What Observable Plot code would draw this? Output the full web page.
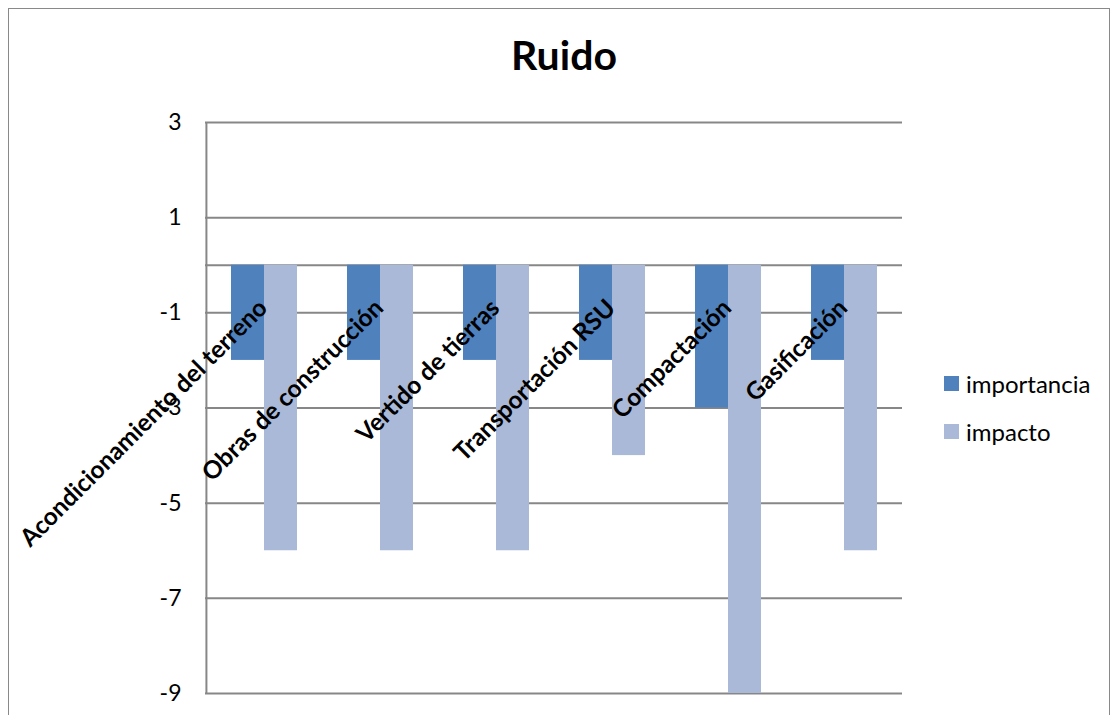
<!DOCTYPE html>
<html>
<head>
<meta charset="utf-8">
<script src="https://cdn.jsdelivr.net/npm/d3@7"></script>
<script src="https://cdn.jsdelivr.net/npm/@observablehq/plot@0.6"></script>
<style>
  body { margin: 0; background: #fff; font-family: Lato, "Open Sans", sans-serif; }
  #chart { position: relative; width: 1112px; height: 715px; overflow: hidden; background: #fff; }
  #frame { position: absolute; left: 8px; top: 8px; width: 1102px; height: 760px; border: 1.5px solid #898989; box-sizing: border-box; }
  #plot { position: absolute; left: 0; top: 0; }
  #title { position: absolute; left: 414px; width: 300px; top: 33px; text-align: center;
           font-weight: 700; font-size: 41px; line-height: 44px; color: #000; }
  .legend-row { position: absolute; left: 944px; height: 26px; display: flex; align-items: center;
                font-size: 24px; color: #000; }
  .swatch { width: 15px; height: 15px; margin-right: 7px; }
</style>
</head>
<body>
<div id="chart">
  <div id="frame"></div>
  <div id="plot"></div>
  <div id="title">Ruido</div>
  <div id="legend"></div>
</div>
<script>
// Actividades evaluadas y sus valores de ruido
const categories = [
  "Acondicionamiento del terreno",
  "Obras de construcción",
  "Vertido de tierras",
  "Transportación RSU",
  "Compactación",
  "Gasificación"
];
const importancia = [-2, -2, -2, -2, -3, -2];
const impacto = [-6, -6, -6, -4, -9, -6];
const series = ["importancia", "impacto"];
const seriesColors = ["#4F81BD", "#AAB9D7"];
const yTicks = [3, 1, -1, -3, -5, -7, -9];

const rows = categories.map((c, i) => ({categoria: c, importancia: importancia[i], impacto: impacto[i]}));

const W = 1112, H = 715;
const mL = 205, mR = 210, mT = 122, mB = 22;
const padIn = 0.432;
const step = (W - mL - mR) / categories.length;
const halfBand = step * (1 - padIn) / 2;
const gridColor = "#878787";
const gridWidth = 2;

const chart = Plot.plot({
  width: W,
  height: H,
  marginLeft: mL,
  marginRight: mR,
  marginTop: mT,
  marginBottom: mB,
  style: {fontFamily: "Lato, 'Open Sans', sans-serif", fontSize: "23px", color: "#000", background: "transparent", overflow: "visible"},
  x: {domain: categories, paddingInner: padIn, paddingOuter: padIn / 2, axis: null},
  y: {domain: [-9, 3], ticks: yTicks, tickSize: 0, tickPadding: 24, label: null, tickFormat: d => String(d)},
  marks: [
    // horizontal gridlines and the zero line
    Plot.ruleY(yTicks, {stroke: gridColor, strokeWidth: gridWidth}),
    Plot.ruleY([0], {stroke: gridColor, strokeWidth: gridWidth}),
    // vertical value axis on the left edge of the plot area
    Plot.ruleX([categories[0]], {x: d => d, y1: -9, y2: 3, dx: -step / 2, stroke: gridColor, strokeWidth: gridWidth}),
    // paired bars per activity
    Plot.barY(rows, {x: "categoria", y: "importancia", fill: seriesColors[0], insetRight: halfBand}),
    Plot.barY(rows, {x: "categoria", y: "impacto", fill: seriesColors[1], insetLeft: halfBand}),
    // rotated category labels hanging from the zero line
    Plot.text(rows, {
      x: "categoria", y: () => 0, text: "categoria",
      rotate: -45, textAnchor: "end", lineAnchor: "top",
      fontWeight: "bold", fontSize: 24.5, fill: "#000", dx: -8, dy: 32
    })
  ]
});
document.getElementById("plot").appendChild(chart);

// legend entries
const legend = document.getElementById("legend");
const legendTops = [370, 418];
series.forEach((s, i) => {
  const row = document.createElement("div");
  row.className = "legend-row";
  row.style.top = legendTops[i] + "px";
  const sw = document.createElement("div");
  sw.className = "swatch";
  sw.style.background = seriesColors[i];
  const label = document.createElement("span");
  label.textContent = s;
  row.appendChild(sw);
  row.appendChild(label);
  legend.appendChild(row);
});
</script>
</body>
</html>
